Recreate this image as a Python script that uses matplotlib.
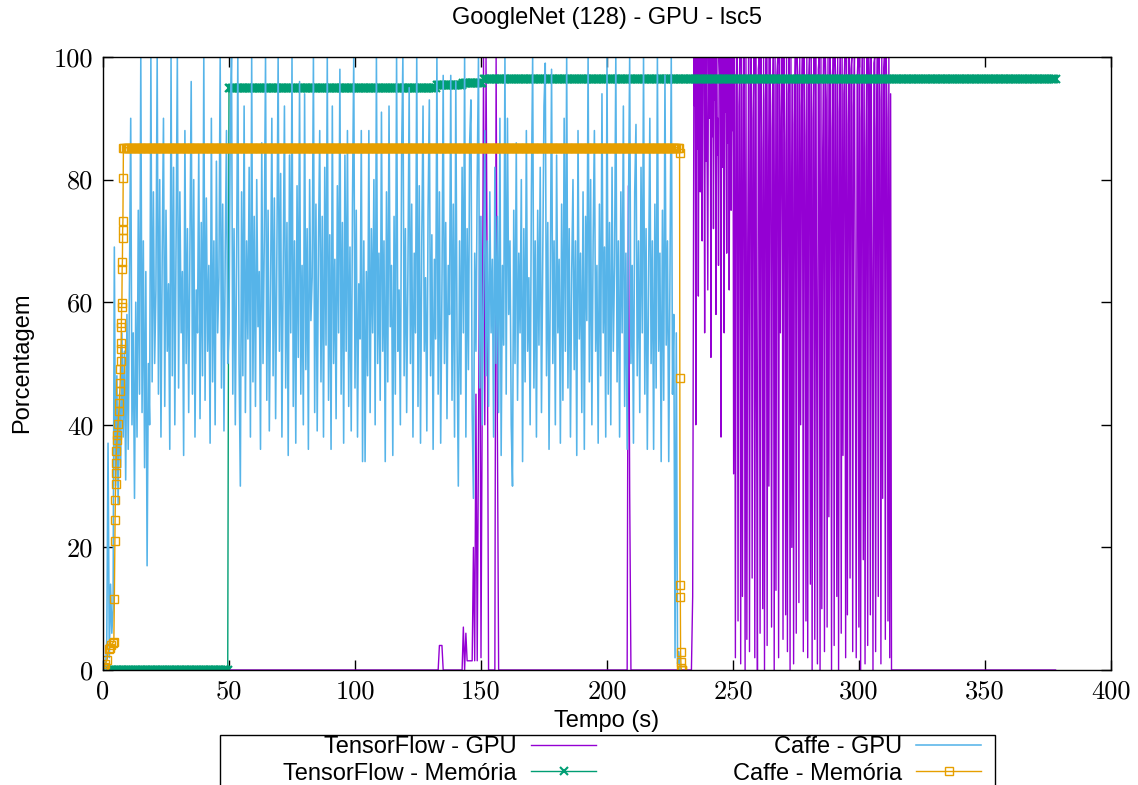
import numpy as np
import matplotlib
matplotlib.use("Agg")
import matplotlib.pyplot as plt
from matplotlib.patches import Rectangle

# Caffe - GPU, one sample every 0.5 s starting at t = 0
caffe_gpu_dt = 0.5
caffe_gpu = [
    0, 1, 0, 5, 37, 2, 14, 6, 10, 69, 30, 48, 27, 45, 33, 55, 38, 52, 31, 58,
    36, 62, 90, 40, 55, 28, 60, 38, 75, 45, 100, 42, 70, 33, 65, 17, 50, 40, 100, 47,
    78, 50, 62, 100, 45, 80, 38, 68, 90, 43, 75, 52, 63, 36, 100, 48, 82, 40, 70, 100,
    46, 78, 55, 65, 35, 88, 50, 72, 42, 68, 96, 45, 80, 38, 62, 55, 85, 41, 73, 48,
    100, 44, 77, 52, 66, 37, 90, 47, 70, 40, 83, 55, 64, 100, 46, 76, 39, 68, 88, 50,
    55, 88, 100, 45, 72, 40, 66, 100, 50, 30, 78, 48, 92, 42, 70, 54, 82, 38, 100, 47,
    74, 43, 80, 56, 65, 36, 86, 50, 70, 100, 44, 75, 39, 62, 90, 48, 77, 41, 68, 100,
    52, 81, 38, 66, 92, 46, 73, 35, 84, 55, 100, 43, 70, 37, 79, 51, 96, 45, 66, 40,
    94, 49, 72, 36, 80, 57, 64, 100, 42, 76, 39, 69, 88, 47, 74, 38, 82, 53, 100, 44,
    71, 36, 92, 50, 67, 41, 79, 55, 98, 45, 73, 37, 84, 52, 88, 43, 69, 39, 76, 100,
    46, 75, 38, 63, 54, 88, 34, 70, 34, 65, 48, 88, 42, 72, 55, 80, 40, 100, 50, 68,
    44, 91, 52, 70, 34, 78, 47, 92, 56, 66, 35, 74, 45, 100, 52, 62, 40, 84, 100, 48,
    72, 42, 65, 95, 50, 76, 38, 68, 55, 100, 43, 79, 37, 70, 92, 52, 64, 39, 75, 93,
    48, 71, 36, 67, 54, 100, 45, 78, 37, 62, 97, 50, 73, 41, 66, 58, 97, 44, 76, 38,
    96, 53, 30, 70, 45, 82, 55, 100, 38, 72, 49, 86, 93, 42, 28, 68, 52, 80, 100, 46,
    74, 40, 62, 88, 48, 70, 43, 78, 55, 67, 38, 82, 50, 74, 42, 90, 35, 66, 53, 100,
    45, 90, 58, 70, 40, 30, 75, 50, 86, 44, 68, 55, 80, 34, 72, 47, 88, 52, 64, 40,
    78, 100, 46, 70, 38, 75, 53, 82, 42, 66, 92, 99, 48, 73, 36, 63, 98, 50, 70, 40,
    84, 55, 67, 37, 76, 44, 90, 52, 100, 46, 72, 38, 65, 80, 49, 70, 35, 88, 54, 68,
    42, 78, 36, 74, 57, 100, 47, 80, 40, 70, 88, 52, 66, 37, 76, 48, 94, 55, 69, 38,
    100, 45, 73, 40, 82, 52, 66, 100, 47, 70, 38, 78, 55, 92, 43, 68, 36, 74, 100, 50,
    66, 37, 78, 89, 48, 70, 42, 82, 55, 100, 45, 72, 36, 64, 90, 50, 70, 36, 76, 46,
    100, 52, 68, 34, 75, 44, 97, 53, 70, 34, 65, 100, 45, 58, 2, 55, 1, 3, 0,
]

# TensorFlow - GPU, idle / sparse part (time, value)
tf_gpu_t = [0, 133, 133.5, 134.5, 135, 142.5, 143, 143.5, 144, 144.5, 146, 146.5,
            147, 147.5, 148, 148.5, 149, 149.5, 150, 150.5, 151, 151.5, 152, 152.5,
            153, 155.5, 156, 156.5, 157, 208, 208.5, 209, 209.5, 233.5, 234]
tf_gpu_v = [0, 0, 4, 4, 0, 0, 7, 0, 6, 1.5, 1.5, 1.5,
            20, 1.5, 45, 1.5, 38, 74, 2, 45, 100, 40, 100, 60,
            0, 0, 100, 40, 0, 0, 79, 29, 0, 0, 12]
# TensorFlow - GPU, warm-up (mostly high), one sample every 0.25 s from t = 234.5
tf_gpu_warm_t0 = 234.5
tf_gpu_warm_dt = 0.25
tf_gpu_warm = [
    100, 92, 100, 40, 100, 85, 100, 61, 95, 100,
    78, 100, 88, 70, 100, 96, 100, 55, 100, 83,
    100, 80, 62, 100, 90, 100, 95, 51, 100, 87,
    100, 72, 100, 93, 100, 58, 100, 84, 90, 66,
    100, 97, 100, 38, 100, 89, 82, 100, 55, 100,
    91, 100, 68, 100, 86, 100, 62, 100, 94, 75,
    100, 88, 100,
]
# TensorFlow - GPU, full swing part, one sample every 0.35 s from t = 250.25
tf_gpu_busy_t0 = 250.25
tf_gpu_busy_dt = 0.35
tf_gpu_busy = [
    32, 100, 2, 96, 100, 8, 92, 100, 1, 100, 12, 95,
    100, 0, 100, 5, 70, 100, 3, 95, 100, 15, 90, 100,
    2, 100, 45, 0, 98, 100, 6, 100, 85, 10, 100, 0,
    93, 100, 4, 100, 30, 100, 92, 7, 88, 100, 0, 100,
    13, 97, 100, 2, 100, 55, 90, 100, 5, 100, 86, 9,
    100, 3, 94, 100, 0, 100, 20, 96, 1, 89, 100, 6,
    100, 96, 11, 100, 40, 92, 100, 3, 100, 87, 8, 100,
    2, 95, 100, 14, 100, 0, 90, 100, 5, 100, 60, 1,
    98, 100, 0, 100, 10, 85, 100, 3, 100, 93, 7, 100,
    25, 100, 97, 0, 88, 100, 4, 100, 96, 12, 100, 0,
    91, 100, 6, 100, 35, 94, 100, 2, 100, 9, 89, 100,
    15, 98, 100, 3, 92, 100, 50, 2, 96, 100, 7, 100,
    0, 90, 100, 18, 100, 1, 85, 100, 4, 100, 95, 9,
    100, 65, 0, 99, 100, 3, 88, 100, 12, 100, 93, 1,
    100, 28, 97, 100, 5, 100, 90, 8, 100, 2, 94, 0,
]
tf_gpu_end = 378

# TensorFlow - Memoria, run-length levels, one sample every 0.5 s
tf_mem_dt = 0.5
tf_mem_levels = [0, 95.0, 95.5, 95.8, 96.4]
tf_mem_counts = [100, 165, 21, 16, 455]

# Caffe - Memoria
caffe_mem_ramp_t = [0, 0.3, 0.9, 1.6, 2.2, 2.7, 3.2, 3.8, 4.3, 4.5, 4.7, 4.8, 4.9,
                    5.0, 5.1, 5.2, 5.3, 5.6, 5.7, 6.0, 6.3, 6.5, 6.7, 6.8, 6.9, 7.0,
                    7.1, 7.2, 7.25, 7.3, 7.4, 7.5, 7.6, 7.7, 7.75, 7.8, 7.9, 8.0, 8.1]
caffe_mem_ramp_v = [0, 0.5, 1.0, 1.6, 3.4, 3.6, 4.0, 4.4, 4.6, 11.6, 21.1, 24.5, 27.8,
                    30.4, 32.1, 33.7, 35.7, 37.6, 38.3, 40.2, 42.2, 43.5, 45.5, 46.8,
                    49.1, 50.4, 52.4, 53.3, 56.0, 56.6, 59.2, 59.9, 65.4, 66.6, 70.5,
                    71.8, 73.3, 80.3, 85.2]
caffe_mem_flat_t0 = 8.5
caffe_mem_flat_level = 85.2
caffe_mem_flat_count = 441
caffe_mem_drop_t = [228.8, 228.9, 229.0, 229.1, 229.2, 229.3, 229.4, 229.6, 229.8]
caffe_mem_drop_v = [84.3, 47.6, 13.9, 11.9, 2.9, 1.3, 0.3, 0, 0]

labels = ["TensorFlow - GPU", "TensorFlow - Memória", "Caffe - GPU", "Caffe - Memória"]
colors = ["#9400d3", "#009e73", "#56b4e9", "#e69f00"]

plt.rcParams['font.family'] = ['Liberation Sans', 'DejaVu Sans']

# assemble series
cg_t = np.arange(len(caffe_gpu)) * caffe_gpu_dt
warm_t = tf_gpu_warm_t0 + np.arange(len(tf_gpu_warm)) * tf_gpu_warm_dt
busy_t = tf_gpu_busy_t0 + np.arange(len(tf_gpu_busy)) * tf_gpu_busy_dt
tg_t = np.concatenate([tf_gpu_t, warm_t, busy_t, [tf_gpu_end]])
tg_v = np.concatenate([tf_gpu_v, tf_gpu_warm, tf_gpu_busy, [0]])
tm_v = np.repeat(tf_mem_levels, tf_mem_counts)
tm_t = np.arange(len(tm_v)) * tf_mem_dt
cm_flat_t = caffe_mem_flat_t0 + np.arange(caffe_mem_flat_count) * 0.5
cm_t = np.concatenate([caffe_mem_ramp_t, cm_flat_t, caffe_mem_drop_t])
cm_v = np.concatenate([caffe_mem_ramp_v, np.repeat(caffe_mem_flat_level, caffe_mem_flat_count), caffe_mem_drop_v])

fig = plt.figure(figsize=(11.38, 7.85), dpi=100)
ax = fig.add_axes([0.09051, 0.1465, 0.88576, 0.78089])

h1, = ax.plot(tg_t, tg_v, color=colors[0], lw=1.0)
h2, = ax.plot(tm_t, tm_v, color=colors[1], lw=1.0, marker='x', ms=6, mew=1.5)
h3, = ax.plot(cg_t, caffe_gpu, color=colors[2], lw=1.15)
h4, = ax.plot(cm_t, cm_v, color=colors[3], lw=1.0, marker='s', ms=6, mew=1.0, mfc='none')

ax.set_xlim(0, 400)
ax.set_ylim(0, 100)
ax.set_xticks(np.arange(0, 401, 50))
ax.set_yticks(np.arange(0, 101, 20))
ax.tick_params(direction='in', top=True, right=True, length=7, width=1,
               labelsize=19, labelfontfamily='cmr10', pad=7)
for s in ax.spines.values():
    s.set_linewidth(1.0)

cx = 0.5334
fig.text(cx, 1 - 18 / 785, "GoogleNet (128) - GPU - lsc5", ha='center', va='center', fontsize=17)
fig.text(cx, 1 - 721 / 785, "Tempo (s)", ha='center', va='center', fontsize=17)
fig.text(22 / 1138, 1 - 363 / 785, "Porcentagem", ha='center', va='center', rotation=90, fontsize=17)

# legend: gnuplot-like box below the plot, two right-aligned columns
fig.add_artist(Rectangle((220 / 1138, 1 - 810 / 785), 775 / 1138, 75 / 785,
                         transform=fig.transFigure, fill=False, ec='black', lw=1.0))
leg_kw = dict(loc='upper right', markerfirst=False, fontsize=17, frameon=False,
              handlelength=2.75, handletextpad=0.6, borderpad=0, borderaxespad=0,
              labelspacing=0.2, numpoints=1)
leg1 = fig.legend([h1, h2], labels[:2], bbox_to_anchor=(596 / 1138, 1 - 736 / 785), **leg_kw)
leg2 = fig.legend([h3, h4], labels[2:], bbox_to_anchor=(981 / 1138, 1 - 736 / 785), **leg_kw)

fig.savefig("out.png", dpi=100)
